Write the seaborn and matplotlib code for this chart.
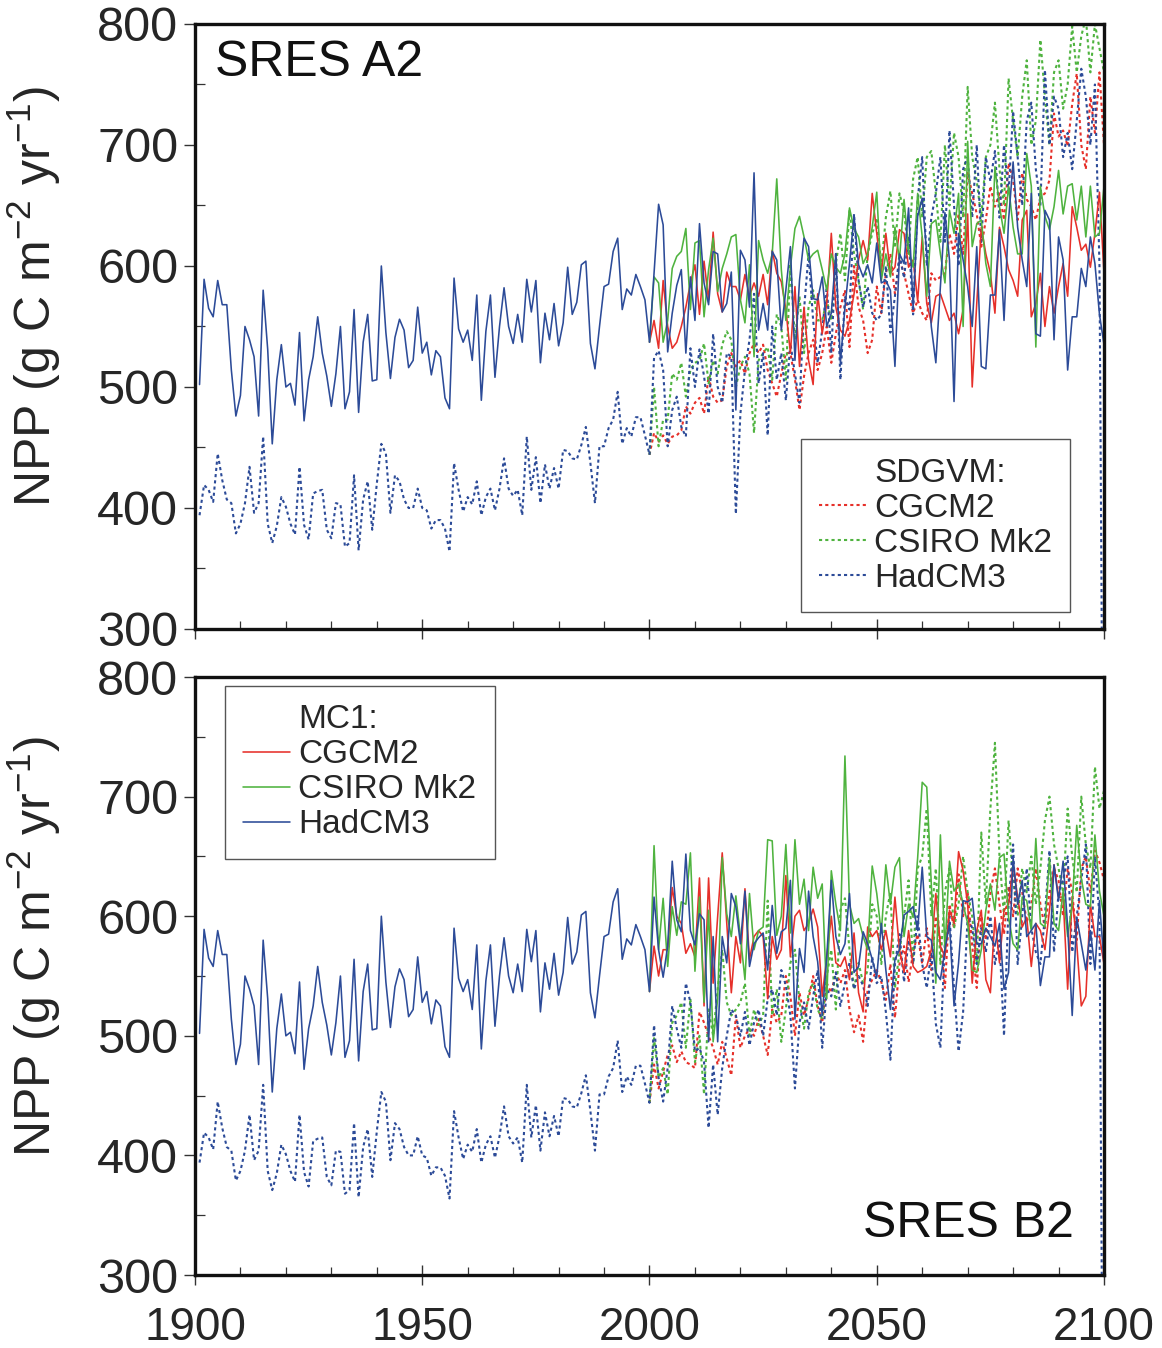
import matplotlib
matplotlib.use("Agg")
import matplotlib.pyplot as plt
import seaborn as sns
import pandas as pd
from matplotlib.lines import Line2D
from matplotlib.ticker import MultipleLocator

# ---------------- data ----------------
hist_years = list(range(1901, 2001))
fut_years = list(range(2001, 2101))
gcms = ["CGCM2", "CSIRO Mk2", "HadCM3"]

hist_mc1 = [502, 589, 565, 558, 588, 568, 568, 514, 476, 493,
            550, 539, 525, 476, 580, 531, 453, 506, 535, 500,
            503, 485, 545, 472, 506, 525, 558, 528, 509, 484,
            511, 550, 482, 496, 564, 479, 537, 560, 505, 506,
            600, 545, 507, 541, 556, 547, 516, 522, 566,
            528, 537, 510, 530, 525, 491, 482, 590, 548, 537,
            547, 522, 576, 489, 546, 576, 508, 550, 582, 550,
            536, 560, 537, 589, 562, 588, 520, 561, 539, 569,
            534, 553, 599, 560, 570, 601, 604, 536, 515, 550,
            583, 585, 612, 623, 564, 581, 576, 593, 583, 572, 537]

hist_sdgvm = [394, 419, 415, 405, 445, 423, 407, 404, 379, 387,
              404, 434, 396, 404, 459, 387, 371, 385, 409, 401,
              387, 378, 434, 386, 374, 412, 414, 415, 382, 375,
              404, 403, 368, 371, 427, 365, 407, 422, 382, 420,
              453, 445, 396, 427, 422, 407, 400, 400, 416,
              400, 398, 383, 390, 390, 383, 364, 437, 415, 397,
              409, 403, 422, 394, 409, 416, 398, 416, 441, 416,
              410, 415, 394, 459, 415, 442, 404, 436, 416, 433,
              416, 448, 447, 441, 440, 452, 467, 437, 404, 451,
              451, 466, 473, 496, 453, 466, 459, 475, 475, 460, 444]

# SRES A2, MC1 (solid)
a2_mc1_cgcm2 = [555, 532, 588, 550, 532, 537, 550, 566, 586, 601,
                560, 604, 572, 628, 577, 562, 595, 583, 583, 572,
                593, 575, 586, 575, 593, 568, 613, 594, 587, 564,
                528, 583, 517, 566, 522, 502, 577, 544, 569, 627,
                566, 547, 542, 555, 577, 605, 621, 605, 660, 627,
                594, 627, 594, 599, 630, 627, 599, 605, 571, 624,
                569, 553, 575, 577, 566, 555, 561, 544, 564, 643,
                500, 569, 632, 610, 594, 561, 632, 616, 597, 588,
                575, 638, 646, 558, 569, 594, 550, 583, 561, 583,
                602, 575, 649, 632, 613, 618, 599, 627, 661, 594]
a2_mc1_csiro = [591, 586, 537, 555, 598, 608, 612, 631, 564, 619,
                621, 558, 597, 623, 579, 598, 610, 624, 626, 572,
                553, 601, 525, 621, 605, 594, 610, 672, 597, 555,
                599, 631, 641, 624, 605, 610, 613, 597, 580, 610,
                599, 594, 610, 648, 631, 624, 602, 610, 632, 661,
                588, 610, 591, 632, 605, 655, 613, 599, 660, 624,
                575, 635, 638, 610, 586, 646, 627, 660, 550, 703,
                616, 635, 638, 602, 583, 682, 649, 627, 666, 632,
                610, 610, 693, 666, 533, 666, 641, 630, 649, 679,
                643, 666, 668, 638, 666, 624, 666, 624, 627, 666]
a2_mc1_hadcm3 = [594, 651, 634, 529, 561, 584, 597, 528, 591, 555,
                 635, 586, 568, 612, 610, 562, 569, 595, 481, 613,
                 605, 566, 677, 547, 569, 547, 612, 605, 547, 580,
                 616, 522, 588, 623, 616, 573, 572, 591, 550, 561,
                 610, 520, 566, 602, 641, 601, 591, 601, 586, 619,
                 586, 588, 580, 517, 610, 602, 648, 566, 641, 656,
                 610, 550, 520, 583, 644, 605, 488, 627, 605, 583,
                 550, 616, 517, 515, 576, 576, 630, 555, 638, 686,
                 632, 605, 583, 660, 544, 542, 646, 638, 539, 624,
                 605, 514, 558, 558, 598, 583, 624, 602, 560, 535]

# SRES A2, SDGVM (dotted)
a2_sdgvm_cgcm2 = [462, 455, 460, 453, 459, 460, 464, 484, 478, 487,
                  491, 478, 509, 492, 487, 489, 517, 528, 517, 522,
                  511, 528, 536, 528, 535, 514, 503, 492, 511, 528,
                  528, 506, 481, 509, 528, 539, 514, 528, 550, 520,
                  544, 566, 580, 533, 600, 566, 555, 528, 539, 583,
                  561, 594, 610, 577, 605, 594, 577, 561, 572, 561,
                  555, 594, 588, 591, 594, 627, 610, 643, 610, 677,
                  660, 643, 616, 638, 666, 649, 660, 638, 685, 671,
                  638, 677, 655, 649, 638, 657, 660, 671, 726, 707,
                  712, 699, 734, 759, 700, 680, 740, 710, 760, 700]
a2_sdgvm_csiro = [500, 451, 473, 473, 511, 506, 520, 492, 514, 520,
                  522, 536, 503, 522, 511, 535, 546, 539, 500, 517,
                  525, 511, 462, 522, 528, 533, 506, 560, 550, 506,
                  602, 539, 575, 528, 566, 580, 555, 555, 572, 555,
                  602, 627, 588, 646, 610, 588, 564, 610, 627, 638,
                  600, 640, 662, 615, 660, 645, 610, 672, 690, 640,
                  690, 695, 660, 620, 700, 650, 710, 690, 640, 748,
                  690, 670, 640, 690, 700, 735, 680, 650, 755, 720,
                  690, 740, 770, 700, 720, 787, 740, 700, 760, 770,
                  730, 750, 798, 760, 790, 805, 760, 800, 780, 760]
a2_sdgvm_hadcm3 = [524, 530, 514, 451, 481, 492, 467, 459, 532, 500,
                   531, 509, 478, 544, 500, 487, 528, 525, 395, 478,
                   514, 539, 577, 503, 528, 460, 550, 506, 528, 489,
                   536, 511, 487, 564, 610, 555, 520, 547, 583, 528,
                   610, 506, 575, 564, 643, 588, 566, 583, 561, 555,
                   560, 600, 545, 575, 610, 590, 625, 560, 655, 690,
                   600, 640, 660, 690, 620, 712, 650, 600, 680, 690,
                   640, 700, 620, 690, 670, 695, 640, 700, 660, 728,
                   690, 650, 720, 735, 680, 650, 762, 700, 740, 730,
                   690, 710, 680, 720, 763, 740, 700, 750, 600, 0]

# SRES B2, MC1 (solid)
b2_mc1_cgcm2 = [575, 550, 572, 572, 624, 600, 594, 569, 577, 566,
                632, 525, 632, 544, 600, 653, 594, 536, 583, 561,
                623, 564, 583, 588, 583, 531, 583, 564, 572, 634,
                566, 600, 605, 588, 594, 606, 591, 533, 566, 600,
                561, 558, 566, 547, 586, 536, 520, 591, 583, 588,
                572, 588, 566, 616, 572, 553, 588, 558, 553, 555,
                558, 572, 619, 575, 566, 605, 594, 654, 638, 610,
                544, 588, 605, 547, 536, 599, 561, 605, 610, 643,
                616, 591, 599, 558, 594, 588, 572, 605, 643, 616,
                616, 539, 616, 577, 525, 533, 610, 583, 583, 560]
b2_mc1_csiro = [659, 572, 615, 558, 608, 584, 612, 610, 653, 554,
                616, 528, 605, 495, 531, 649, 602, 583, 617, 583,
                547, 619, 572, 588, 591, 664, 663, 584, 600, 660,
                586, 664, 610, 631, 588, 641, 615, 627, 531, 638,
                610, 588, 734, 610, 594, 598, 583, 572, 642, 619,
                586, 643, 610, 641, 649, 583, 610, 599, 649, 712,
                708, 627, 544, 668, 572, 646, 621, 627, 610, 594,
                555, 553, 572, 605, 627, 605, 649, 652, 599, 577,
                572, 616, 613, 588, 665, 594, 591, 649, 594, 588,
                621, 583, 610, 676, 632, 610, 608, 668, 621, 600]
b2_mc1_hadcm3 = [616, 572, 549, 575, 646, 597, 587, 652, 588, 576,
                 602, 597, 495, 583, 495, 583, 561, 619, 608, 577,
                 621, 558, 577, 582, 586, 555, 609, 569, 587, 590,
                 630, 514, 573, 553, 621, 583, 562, 517, 566, 630,
                 583, 568, 577, 619, 553, 558, 587, 577, 564, 549,
                 594, 555, 522, 564, 572, 601, 604, 608, 588, 641,
                 583, 580, 553, 547, 572, 594, 525, 561, 613, 612,
                 615, 577, 577, 590, 583, 575, 594, 539, 553, 649,
                 610, 630, 583, 588, 594, 542, 566, 566, 643, 613,
                 646, 591, 517, 599, 577, 555, 588, 555, 613, 560]

# SRES B2, SDGVM (dotted)
b2_sdgvm_cgcm2 = [476, 456, 470, 484, 492, 478, 487, 478, 476, 473,
                  520, 511, 500, 490, 476, 495, 481, 467, 517, 490,
                  500, 506, 500, 514, 500, 484, 522, 511, 517, 550,
                  533, 500, 536, 517, 531, 550, 525, 511, 544, 536,
                  553, 544, 555, 522, 503, 517, 495, 539, 547, 555,
                  545, 530, 560, 515, 560, 575, 545, 570, 585, 560,
                  590, 555, 600, 580, 540, 610, 590, 635, 600, 620,
                  575, 540, 600, 580, 620, 640, 610, 585, 625, 600,
                  640, 620, 595, 610, 640, 610, 590, 620, 640, 630,
                  600, 640, 620, 580, 640, 650, 620, 655, 645, 630]
b2_sdgvm_csiro = [498, 465, 473, 451, 511, 517, 528, 490, 531, 478,
                  500, 451, 522, 500, 539, 572, 528, 517, 522, 528,
                  544, 500, 522, 509, 517, 613, 517, 539, 495, 522,
                  561, 572, 528, 506, 536, 544, 522, 514, 550, 572,
                  522, 605, 615, 572, 539, 561, 544, 555, 610, 600,
                  560, 600, 620, 540, 570, 600, 630, 560, 640, 650,
                  690, 600, 640, 560, 620, 640, 590, 610, 650, 620,
                  600, 560, 670, 610, 690, 745, 650, 600, 680, 630,
                  600, 640, 620, 650, 610, 640, 680, 700, 660, 640,
                  620, 690, 650, 620, 700, 660, 640, 725, 690, 705]
b2_sdgvm_hadcm3 = [509, 465, 445, 473, 525, 506, 490, 544, 528, 487,
                   490, 478, 423, 476, 434, 473, 500, 522, 517, 500,
                   520, 492, 511, 522, 500, 531, 539, 517, 555, 542,
                   517, 456, 511, 528, 506, 533, 555, 490, 539, 533,
                   553, 525, 544, 561, 539, 550, 542, 525, 566, 544,
                   550, 520, 480, 560, 585, 545, 580, 560, 600, 560,
                   540, 570, 510, 490, 580, 600, 540, 487, 520, 600,
                   590, 560, 590, 570, 600, 560, 580, 500, 610, 660,
                   560, 600, 640, 590, 570, 560, 600, 655, 570, 620,
                   630, 650, 570, 600, 630, 660, 560, 650, 600, 0]

colors = {"CGCM2": "#e6302a", "CSIRO Mk2": "#4fb33f", "HadCM3": "#2c4b98"}

panels = {
    "A2": {"MC1": [a2_mc1_cgcm2, a2_mc1_csiro, a2_mc1_hadcm3],
           "SDGVM": [a2_sdgvm_cgcm2, a2_sdgvm_csiro, a2_sdgvm_hadcm3]},
    "B2": {"MC1": [b2_mc1_cgcm2, b2_mc1_csiro, b2_mc1_hadcm3],
           "SDGVM": [b2_sdgvm_cgcm2, b2_sdgvm_csiro, b2_sdgvm_hadcm3]},
}


def build_frame(panel):
    rows = []
    for model, hist in (("MC1", hist_mc1), ("SDGVM", hist_sdgvm)):
        for g, fut in zip(gcms, panels[panel][model]):
            if g == "HadCM3":
                yrs = hist_years + fut_years
                vals = hist + fut
            else:
                yrs = [hist_years[-1]] + fut_years
                vals = [hist[-1]] + fut
            for y, v in zip(yrs, vals):
                rows.append({"year": y, "npp": v, "model": model, "gcm": g})
    return pd.DataFrame(rows)


# ---------------- style ----------------
sns.set_theme(style="ticks")
plt.rcParams["font.family"] = ["Liberation Sans", "DejaVu Sans"]
plt.rcParams["mathtext.fontset"] = "custom"
plt.rcParams["mathtext.rm"] = "Liberation Sans"
plt.rcParams["mathtext.it"] = "Liberation Sans:italic"

DOT = (0, (1.5, 1.5))
fig = plt.figure(figsize=(11.62, 13.48), dpi=100)
ax1 = fig.add_axes([0.1678, 0.5334, 0.7823, 0.4488])
ax2 = fig.add_axes([0.1678, 0.05415, 0.7823, 0.4436])


def draw(ax, panel):
    df = build_frame(panel)
    for model, ls, lw in (("SDGVM", DOT, 1.5), ("MC1", "-", 1.15)):
        for g in gcms:
            d = df[(df.model == model) & (df.gcm == g)]
            sns.lineplot(data=d, x="year", y="npp", ax=ax, color=colors[g],
                         linewidth=lw, linestyle=ls, estimator=None,
                         legend=False)
    ax.set_xlim(1900, 2100)
    ax.set_ylim(300, 800)
    ax.xaxis.set_major_locator(MultipleLocator(50))
    ax.xaxis.set_minor_locator(MultipleLocator(10))
    ax.yaxis.set_major_locator(MultipleLocator(100))
    ax.yaxis.set_minor_locator(MultipleLocator(50))
    ax.tick_params(axis="x", which="major", direction="inout", length=14,
                   width=1.0, labelsize=33, pad=15.5, color="#333333")
    ax.tick_params(axis="x", which="minor", direction="in", length=6,
                   width=0.9, color="#333333")
    ax.tick_params(axis="y", which="major", direction="out", length=8,
                   width=1.0, labelsize=35, pad=4, color="#333333")
    ax.tick_params(axis="y", which="minor", direction="in", length=7,
                   width=0.9, color="#333333")
    for s in ax.spines.values():
        s.set_linewidth(2.4)
        s.set_color("#111111")
    ax.set_xlabel("")
    ax.set_ylabel("NPP (g C m$^{-2}$ yr$^{-1}$)", fontsize=36)
    ax.yaxis.set_label_coords(-0.145, 0.55)


def add_legend(ax, title, ls, lw, loc, anchor):
    handles = [Line2D([], [], color="none")] + [
        Line2D([], [], color=colors[g], linewidth=lw, linestyle=ls) for g in gcms]
    labels = [title] + gcms
    leg = ax.legend(handles, labels, loc=loc, bbox_to_anchor=anchor,
                    fontsize=24, frameon=True, fancybox=False,
                    edgecolor="#555555", framealpha=1, handlelength=1.4,
                    handletextpad=0.25, labelspacing=0.12, borderpad=0.55,
                    borderaxespad=0)
    leg.get_frame().set_linewidth(1.0)


draw(ax1, "A2")
draw(ax2, "B2")
ax1.tick_params(labelbottom=False)

add_legend(ax1, "SDGVM:", DOT, 1.5, "lower right", (0.963, 0.028))
add_legend(ax2, "MC1:", "-", 1.15, "upper left", (0.033, 0.985))

ax1.text(0.022, 0.935, "SRES A2", transform=ax1.transAxes, fontsize=36,
         ha="left", va="center", color="#111111")
ax2.text(0.967, 0.085, "SRES B2", transform=ax2.transAxes, fontsize=36,
         ha="right", va="center", color="#111111")

fig.savefig("out.png", dpi=100)
